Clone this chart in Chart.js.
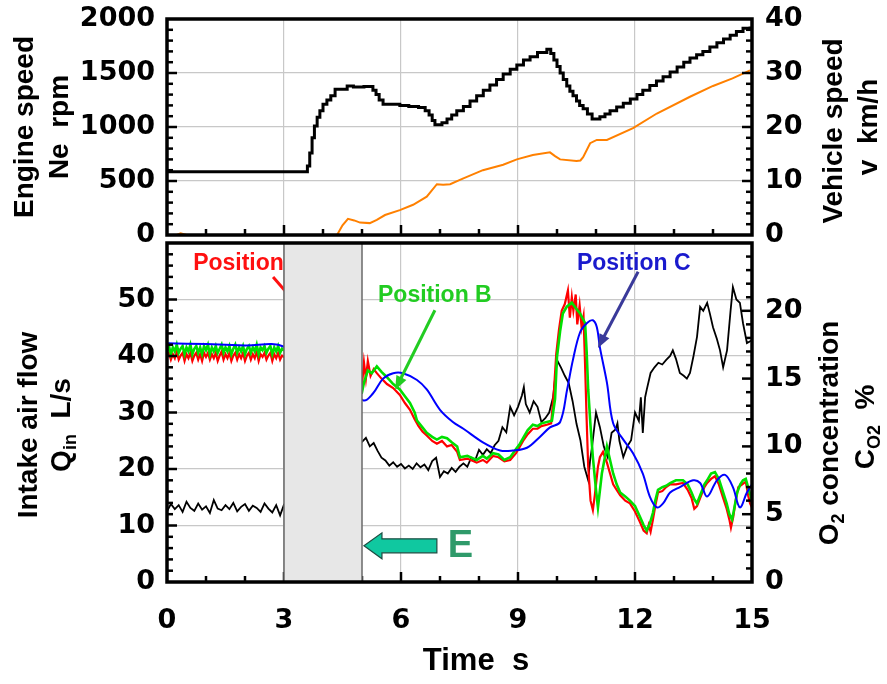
<!DOCTYPE html>
<html>
<head>
<meta charset="utf-8">
<script src="https://cdn.jsdelivr.net/npm/chart.js@4.4.1/dist/chart.umd.min.js"></script>
<style>
  html, body { margin: 0; padding: 0; background: #fff; }
  #wrap { position: relative; width: 887px; height: 684px; }
  #wrap canvas { position: absolute; left: 0; }
  #topChart { top: 0; }
  #bottomChart { top: 236px; }
</style>
</head>
<body>
<div id="wrap">
  <canvas id="topChart" width="887" height="256"></canvas>
  <canvas id="bottomChart" width="887" height="448"></canvas>
</div>
<script>
// ---- top panel: engine speed (rpm) and vehicle speed (km/h) ----
const engineTime = [0, 3.58, 3.6, 3.66, 3.72, 3.78, 3.85, 3.92, 4.0, 4.1,
  4.2, 4.31, 4.62, 4.78, 5.05, 5.28, 5.36, 5.44, 5.54, 5.97,
  6.2, 6.45, 6.62, 6.72, 6.8, 6.87, 7.05, 7.18, 7.3, 7.43,
  7.6, 7.77, 7.94, 8.11, 8.28, 8.45, 8.62, 8.8, 8.97, 9.14,
  9.31, 9.5, 9.74, 9.84, 9.92, 10.0, 10.08, 10.16, 10.25, 10.33,
  10.41, 10.5, 10.58, 10.67, 10.78, 10.9, 11.1, 11.23, 11.36, 11.53,
  11.7, 11.88, 12.05, 12.2, 12.38, 12.55, 12.72, 12.9, 13.08, 13.25,
  13.41, 13.58, 13.74, 13.92, 14.1, 14.27, 14.44, 14.6, 14.77, 14.95];
const engineRpm = [585, 585, 640, 760, 900, 1010, 1090, 1150, 1210, 1250,
  1290, 1350, 1380, 1370, 1375, 1340, 1300, 1250, 1210, 1200,
  1190, 1180, 1150, 1110, 1060, 1020, 1040, 1075, 1110, 1150,
  1190, 1240, 1290, 1340, 1390, 1440, 1490, 1535, 1575, 1620,
  1650, 1690, 1720, 1680, 1620, 1560, 1500, 1440, 1380, 1330,
  1290, 1240, 1200, 1170, 1120, 1075, 1095, 1120, 1150, 1185,
  1220, 1260, 1300, 1340, 1385, 1425, 1465, 1510, 1555, 1600,
  1640, 1670, 1700, 1740, 1780, 1815, 1850, 1885, 1915, 1930];

const vehicleTime = [0, 0.25, 0.35, 0.5, 4.36, 4.5, 4.64, 4.8, 4.95, 5.2,
  5.38, 5.59, 5.97, 6.31, 6.66, 6.92, 7.08, 7.26, 7.51, 7.6,
  8.1, 8.62, 8.97, 9.38, 9.82, 9.95, 10.08, 10.5, 10.6, 10.67,
  10.85, 11.02, 11.28, 11.95, 12.56, 13.41, 14.0, 14.5, 14.95];
const vehicleKmh = [0, 0, 0.3, 0, 0, 1.8, 3.0, 2.7, 2.3, 2.2,
  2.8, 3.7, 4.6, 5.6, 7.1, 9.4, 9.3, 9.4, 10.2, 10.5,
  12.0, 13.0, 14.0, 14.8, 15.3, 14.6, 14.0, 13.7, 13.8, 14.4,
  17.0, 17.6, 17.6, 19.8, 22.5, 25.6, 27.6, 29.0, 30.5];

// ---- bottom panel: intake air flow (L/s) and O2 concentration (%) ----
const flowTime = [0, 0.1, 0.2, 0.3, 0.4, 0.5, 0.6, 0.7, 0.8, 0.9, 1.0, 1.1, 1.2, 1.3, 1.4, 1.5,
  1.6, 1.7, 1.8, 1.9, 2.0, 2.1, 2.2, 2.3, 2.4, 2.5, 2.6, 2.7, 2.8, 2.9, 3.0,
  5.0, 5.1, 5.2, 5.3, 5.4, 5.5, 5.6, 5.7, 5.8, 5.9, 6.0, 6.1, 6.2, 6.3, 6.4, 6.5, 6.6, 6.7, 6.8, 6.9,
  7.0, 7.1, 7.2, 7.3, 7.4, 7.5, 7.6, 7.7, 7.8, 7.9, 8.0, 8.1, 8.2, 8.3, 8.4, 8.5, 8.6, 8.7, 8.8, 8.9,
  9.0, 9.1, 9.15, 9.2, 9.3, 9.4, 9.5, 9.6, 9.7, 9.8, 9.9, 10.0, 10.1, 10.2, 10.3, 10.4, 10.5, 10.6,
  10.7, 10.8, 10.85, 10.9, 11.0, 11.1, 11.2, 11.3, 11.4, 11.5, 11.55, 11.6, 11.7, 11.8, 11.9, 12.0,
  12.1, 12.15, 12.2, 12.26, 12.3, 12.4, 12.5, 12.6, 12.7, 12.8, 12.9, 12.97, 13.05, 13.15, 13.25,
  13.33, 13.41, 13.5, 13.59, 13.67, 13.75, 13.85, 13.92, 14.0, 14.1, 14.18, 14.26, 14.36, 14.45,
  14.51, 14.6, 14.69, 14.77, 14.87, 15.0];
const flowLs = [12.5, 13.8, 12.9, 13.6, 12.4, 14.2, 13.1, 12.6, 13.9, 12.8, 13.4, 12.2, 14.5, 13.0, 12.7, 13.6,
  12.9, 14.0, 12.5, 13.3, 13.8, 12.6, 13.5, 13.1, 12.4, 13.9, 13.0, 12.3, 13.6, 11.8, 13.7,
  24.8, 25.5, 24.0, 24.6, 23.2, 22.0, 21.5, 20.6, 21.2, 20.4, 20.9, 20.1, 20.6, 20.0, 21.0, 20.3, 20.8, 19.8, 21.4, 22.0,
  18.6, 19.6, 19.2, 20.2, 19.5, 20.4, 21.0, 20.4, 22.0, 21.5, 23.4, 22.5, 23.5, 22.8, 24.2, 25.0, 27.4, 26.5, 31.0, 29.5,
  31.0, 33.0, 34.5, 31.5, 30.0, 32.0, 31.0, 28.3, 29.0, 30.0, 32.7, 39.3, 38.0, 36.5, 35.2, 32.0, 28.0, 25.1,
  20.4, 18.0, 21.6, 24.0, 30.0, 27.4, 24.0, 22.1, 26.4, 27.0, 28.1, 25.0, 22.1, 24.0, 25.1, 30.0,
  28.5, 32.7, 26.4, 32.7, 34.0, 37.0, 38.0, 38.8, 38.5, 39.3, 40.0, 41.0, 39.5, 37.0, 36.5,
  36.0, 37.0, 40.0, 43.4, 48.7, 48.0, 49.4, 47.5, 45.1, 43.0, 41.0, 38.0, 41.0, 48.0,
  52.2, 50.0, 49.4, 45.8, 42.3, 42.8];

const startTime = [0, 0.05, 0.1, 0.15, 0.2, 0.25, 0.3, 0.35, 0.4, 0.45, 0.5, 0.55, 0.6, 0.65, 0.7, 0.75,
  0.8, 0.85, 0.9, 0.95, 1.0, 1.05, 1.1, 1.15, 1.2, 1.25, 1.3, 1.35, 1.4, 1.45, 1.5, 1.55, 1.6, 1.65,
  1.7, 1.75, 1.8, 1.85, 1.9, 1.95, 2.0, 2.05, 2.1, 2.15, 2.2, 2.25, 2.3, 2.35, 2.4, 2.45, 2.5, 2.55,
  2.6, 2.65, 2.7, 2.75, 2.8, 2.85, 2.9, 2.95, 3.0];

const posATime = startTime.concat([
  5.0, 5.05, 5.1, 5.15, 5.22, 5.3, 5.38, 5.5, 5.64, 5.8, 5.97, 6.1, 6.23, 6.35, 6.45, 6.55, 6.66, 6.8, 6.92, 7.05,
  7.18, 7.3, 7.44, 7.51, 7.7, 7.94, 8.1, 8.2, 8.36, 8.5, 8.65, 8.8, 8.95, 9.05, 9.13, 9.25, 9.38, 9.5, 9.6, 9.74,
  9.85, 9.92, 9.98, 10.05, 10.12, 10.2, 10.28, 10.33, 10.38, 10.42, 10.48, 10.52, 10.58, 10.63, 10.68, 10.72,
  10.76, 10.8, 10.86, 10.92, 10.97, 11.05, 11.1, 11.18, 11.28, 11.36, 11.44, 11.53, 11.62, 11.75,
  11.87, 12.0, 12.13, 12.22, 12.3, 12.35, 12.4, 12.46, 12.52, 12.59, 12.7, 12.8, 12.9, 13.05, 13.23,
  13.35, 13.45, 13.52, 13.59, 13.7, 13.78, 13.85, 13.95, 14.05, 14.15, 14.26, 14.35, 14.42, 14.46, 14.52,
  14.58, 14.65, 14.75, 14.84, 14.9, 14.95, 15.0]);
const posAO2 = [16.6, 16.9, 16.4, 16.8, 16.5, 17.0, 16.4, 16.7, 16.9, 16.3,
  16.8, 16.5, 16.9, 16.3, 16.7, 16.9, 16.4, 16.8, 16.3, 16.9,
  16.6, 16.9, 16.4, 16.8, 16.5, 16.9, 16.3, 16.7, 17.0, 16.4,
  16.8, 16.5, 16.9, 16.3, 16.7, 16.9, 16.4, 16.8, 16.5, 16.9,
  16.3, 16.7, 16.9, 16.4, 16.8, 16.5, 17.0, 16.3, 16.8, 16.6,
  16.9, 16.4, 16.7, 16.9, 16.3, 16.8, 16.5, 16.9, 16.4, 16.7, 16.6,
  14.5, 16.2, 15.0, 16.3, 15.2, 15.7, 15.4, 15.0, 14.6, 14.3, 13.8, 13.2, 12.7, 12.0, 11.5, 11.1, 10.8, 10.4, 10.2, 10.4,
  10.0, 10.1, 9.6, 9.0, 9.1, 8.8, 9.0, 8.8, 9.3, 9.2, 8.9, 9.0, 9.5, 10.0, 10.4, 10.9, 11.3, 11.3, 11.5, 11.6,
  11.7, 14.0, 16.8, 18.6, 20.0, 20.5, 21.5, 19.5, 21.0, 20.0, 21.2, 19.0, 20.4, 18.8, 19.6, 16.0,
  12.0, 8.5, 6.0, 5.3, 6.4, 8.5, 9.2, 9.6, 8.8, 8.0, 7.2, 6.8, 6.4, 6.0,
  5.8, 5.2, 4.4, 3.8, 3.6, 4.2, 3.7, 4.6, 5.6, 6.6, 6.7, 7.0, 7.2, 7.2, 7.3,
  6.8, 6.2, 5.4, 5.6, 6.4, 7.0, 7.3, 7.6, 7.8, 7.2, 6.2, 5.4, 4.6, 4.0, 4.8,
  6.0, 7.0, 7.2, 7.4, 6.4, 5.8, 5.5];

const posBTime = startTime.concat([
  5.0, 5.05, 5.15, 5.25, 5.38, 5.5, 5.64, 5.8, 5.97, 6.1, 6.23, 6.35, 6.41, 6.55, 6.66, 6.8, 6.92, 7.05, 7.18, 7.3,
  7.44, 7.51, 7.7, 7.94, 8.1, 8.2, 8.36, 8.5, 8.65, 8.8, 8.95, 9.05, 9.13, 9.25, 9.38, 9.5, 9.6, 9.74, 9.87, 9.95,
  10.0, 10.08, 10.15, 10.25, 10.38, 10.48, 10.59, 10.72, 10.76, 10.8, 10.86, 10.92, 11.0, 11.05, 11.15, 11.28,
  11.36, 11.44, 11.53, 11.62, 11.75, 11.87, 12.0, 12.13, 12.22, 12.3, 12.38, 12.46, 12.52, 12.59,
  12.7, 12.8, 12.9, 13.05, 13.23, 13.35, 13.45, 13.52, 13.59, 13.7, 13.78, 13.85, 13.95, 14.05, 14.15,
  14.26, 14.35, 14.42, 14.49, 14.55, 14.62, 14.7, 14.77, 14.84, 14.9, 15.0]);
const posBO2 = [17.0, 17.4, 16.8, 17.3, 17.0, 17.5, 16.9, 17.2, 17.4, 16.8,
  17.3, 17.0, 17.5, 16.8, 17.2, 17.4, 16.9, 17.3, 16.8, 17.4,
  17.1, 17.5, 16.8, 17.3, 17.0, 17.4, 16.9, 17.2, 17.5, 16.9,
  17.3, 17.0, 17.4, 16.8, 17.2, 17.5, 16.9, 17.3, 17.0, 17.4,
  16.8, 17.2, 17.4, 16.9, 17.3, 17.0, 17.5, 16.8, 17.3, 17.1,
  17.4, 16.9, 17.2, 17.4, 16.8, 17.3, 17.0, 17.4, 16.9, 17.2, 17.1,
  14.0, 14.7, 15.6, 15.4, 15.9, 15.5, 15.1, 14.6, 14.2, 13.7, 13.2, 12.5, 11.9, 11.4, 11.0, 10.7, 10.5, 10.7, 10.6, 10.3,
  10.0, 9.2, 9.3, 9.0, 9.3, 9.1, 9.5, 9.4, 9.0, 9.2, 9.8, 10.2, 10.6, 11.2, 11.6, 11.5, 11.7, 11.8, 11.9, 13.5,
  16.6, 18.5, 19.8, 20.3, 20.6, 20.2, 19.8, 19.1, 17.0, 14.2, 11.5, 9.2, 6.8, 5.5, 8.0, 10.0,
  9.0, 8.0, 7.2, 6.6, 6.3, 6.0, 5.6, 4.8, 4.2, 3.8, 4.3, 5.1, 6.0, 6.8,
  7.0, 7.1, 7.3, 7.5, 7.5, 7.2, 6.6, 6.1, 5.8, 6.6, 7.2, 7.5, 8.0, 8.1, 7.6,
  6.6, 5.8, 5.0, 4.6, 5.5, 6.6, 7.2, 7.5, 7.6, 7.0, 6.0];

const posCTime = [0, 1, 2, 3,
  5.03, 5.28, 5.54, 5.8, 6.05, 6.41, 6.66, 7.0, 7.33, 7.6, 8.1, 8.54, 8.87, 9.23, 9.56, 9.82,
  10.08, 10.26, 10.41, 10.59, 10.77, 10.92, 11.02, 11.1, 11.28, 11.44, 11.7, 11.95, 12.2, 12.38,
  12.56, 12.72, 12.9, 13.15, 13.49, 13.67, 13.85, 14.1, 14.31, 14.51, 14.69, 14.87, 15.0];
const posCO2 = [17.6, 17.55, 17.45, 17.35,
  13.4, 13.9, 15.0, 15.4, 15.4, 14.9, 14.2, 12.7, 11.8, 11.3, 10.3, 9.7, 9.7, 9.9, 10.7, 11.4,
  11.8, 14.2, 16.4, 18.4, 19.1, 19.3, 18.8, 17.3, 14.7, 11.7, 10.5, 9.5, 8.0, 6.3,
  5.5, 5.8, 6.6, 7.0, 7.5, 7.3, 6.3, 7.5, 7.9, 7.0, 5.5, 6.6, 7.2];

const timeTicks = { min: 0, max: 15, step: 3 };

const TICK_FONT = { family: '"DejaVu Sans", sans-serif', weight: 'bold', size: 27, lineHeight: 1 };
const TITLE_FONT = 'bold 28px "Liberation Sans", Arial, sans-serif';
const SUB_FONT = 'bold 18px "Liberation Sans", Arial, sans-serif';
const NOTE_FONT = 'bold 23px "Liberation Sans", Arial, sans-serif';
const GRID = '#c8c8c8';

const pts = (xs, ys) => xs.map((x, i) => ({ x: x, y: ys[i] }));

function drawTickMarks(ctx, scale, area, t) {
  const n = Math.round((scale.max - scale.min) / t.minor);
  ctx.strokeStyle = '#000';
  ctx.lineWidth = 2.5;
  for (let i = 1; i < n; i++) {
    const v = scale.min + i * t.minor;
    const r = v / t.major;
    const len = Math.abs(r - Math.round(r)) < 1e-6 ? 10 : 6;
    const p = scale.getPixelForValue(v);
    ctx.beginPath();
    if (t.side === 'bottom') { ctx.moveTo(p, area.bottom); ctx.lineTo(p, area.bottom - len); }
    if (t.side === 'left') { ctx.moveTo(area.left, p); ctx.lineTo(area.left + len, p); }
    if (t.side === 'right') { ctx.moveTo(area.right, p); ctx.lineTo(area.right - len, p); }
    ctx.stroke();
  }
}

function arrow(ctx, x1, y1, x2, y2, color, width, head) {
  const ang = Math.atan2(y2 - y1, x2 - x1);
  ctx.strokeStyle = color;
  ctx.fillStyle = color;
  ctx.lineWidth = width;
  ctx.beginPath();
  ctx.moveTo(x1, y1);
  ctx.lineTo(x2 - head * 0.7 * Math.cos(ang), y2 - head * 0.7 * Math.sin(ang));
  ctx.stroke();
  if (head > 0) {
    ctx.beginPath();
    ctx.moveTo(x2, y2);
    ctx.lineTo(x2 - head * Math.cos(ang - 0.38), y2 - head * Math.sin(ang - 0.38));
    ctx.lineTo(x2 - head * Math.cos(ang + 0.38), y2 - head * Math.sin(ang + 0.38));
    ctx.closePath();
    ctx.fill();
  }
}

function drawNote(ctx, chart, n) {
  const sx = chart.scales.x, sy = chart.scales.yQ;
  const px = v => sx.getPixelForValue(v), py = v => sy.getPixelForValue(v);
  if (n.type === 'text') {
    ctx.font = n.font;
    ctx.fillStyle = n.color;
    ctx.textAlign = 'left';
    ctx.textBaseline = 'alphabetic';
    ctx.fillText(n.text, px(n.x), py(n.y));
  } else if (n.type === 'arrow') {
    arrow(ctx, px(n.x1), py(n.y1), px(n.x2), py(n.y2), n.color, n.width, n.head);
  } else if (n.type === 'block') {
    const tx = px(n.x1), ty = py(n.y), ex = px(n.x2);
    const hb = n.body / 2, hh = n.headH / 2, hl = n.headL;
    ctx.beginPath();
    ctx.moveTo(tx, ty);
    ctx.lineTo(tx + hl, ty - hh);
    ctx.lineTo(tx + hl, ty - hb);
    ctx.lineTo(ex, ty - hb);
    ctx.lineTo(ex, ty + hb);
    ctx.lineTo(tx + hl, ty + hb);
    ctx.lineTo(tx + hl, ty + hh);
    ctx.closePath();
    ctx.fillStyle = n.fill;
    ctx.fill();
    ctx.strokeStyle = n.stroke;
    ctx.lineWidth = 1.2;
    ctx.stroke();
  }
}

function drawTitle(ctx, t) {
  ctx.save();
  ctx.fillStyle = '#000';
  ctx.textAlign = 'left';
  ctx.textBaseline = 'alphabetic';
  let total = 0;
  const widths = t.runs.map(r => {
    ctx.font = r.sub ? SUB_FONT : (t.font || TITLE_FONT);
    const w = ctx.measureText(r.text).width;
    total += w;
    return w;
  });
  ctx.translate(t.x, t.y);
  if (t.rotate) ctx.rotate(-Math.PI / 2);
  let x = -total / 2;
  t.runs.forEach((r, i) => {
    ctx.font = r.sub ? SUB_FONT : (t.font || TITLE_FONT);
    ctx.fillText(r.text, x, r.sub ? 6 : 0);
    x += widths[i];
  });
  ctx.restore();
}

const panelPlugin = {
  id: 'panel',
  afterDatasetsDraw(chart, args, o) {
    const ctx = chart.ctx, a = chart.chartArea;
    ctx.save();
    o.marks.forEach(t => drawTickMarks(ctx, chart.scales[t.id], a, t));
    (o.under || []).forEach(n => drawNote(ctx, chart, n));
    if (o.shade) {
      const x0 = chart.scales.x.getPixelForValue(o.shade.from);
      const x1 = chart.scales.x.getPixelForValue(o.shade.to);
      ctx.fillStyle = '#e7e7e7';
      ctx.fillRect(x0, a.top, x1 - x0, a.bottom - a.top);
      ctx.strokeStyle = '#6a6a6a';
      ctx.lineWidth = 1.5;
      ctx.strokeRect(x0, a.top, x1 - x0, a.bottom - a.top);
    }
    (o.over || []).forEach(n => drawNote(ctx, chart, n));
    ctx.restore();
  },
  afterDraw(chart, args, o) {
    const ctx = chart.ctx, a = chart.chartArea;
    ctx.save();
    ctx.strokeStyle = '#000';
    ctx.lineWidth = 3.5;
    ctx.strokeRect(a.left, a.top, a.right - a.left, a.bottom - a.top);
    ctx.restore();
    o.titles.forEach(t => drawTitle(ctx, t));
  }
};

function noPadding(s) {
  s.paddingTop = 0; s.paddingBottom = 0; s.paddingLeft = 0; s.paddingRight = 0;
}

function yAxis(pos, min, max, step, grid, dropTop) {
  return {
    type: 'linear', position: pos, min: min, max: max,
    ticks: { stepSize: step, color: '#000', font: TICK_FONT, padding: pos === 'left' ? 12 : 13,
      callback: v => String(v) },
    grid: { display: grid, color: GRID, lineWidth: 1.2, drawTicks: false },
    border: { display: false },
    afterBuildTicks: s => { if (dropTop) s.ticks = s.ticks.filter(t => t.value < max); },
    afterFit: s => { s.width = pos === 'left' ? 167 : 135; noPadding(s); }
  };
}

function timeAxis(showLabels, height) {
  return {
    type: 'linear', min: timeTicks.min, max: timeTicks.max,
    ticks: { stepSize: timeTicks.step, display: showLabels, color: '#000', font: TICK_FONT, padding: 25,
      callback: v => String(v) },
    grid: { color: GRID, lineWidth: 1.2, drawTicks: false },
    border: { display: false },
    afterFit: s => { s.height = height; noPadding(s); }
  };
}

const lineStyle = { pointRadius: 0, fill: false, tension: 0 };

new Chart(document.getElementById('topChart'), {
  type: 'line',
  data: {
    datasets: [
      Object.assign({ label: 'Engine speed', data: pts(engineTime, engineRpm), yAxisID: 'y',
        borderColor: '#000', borderWidth: 3, stepped: true }, lineStyle),
      Object.assign({ label: 'Vehicle speed', data: pts(vehicleTime, vehicleKmh), yAxisID: 'v',
        borderColor: '#ff8000', borderWidth: 2 }, lineStyle)
    ]
  },
  options: {
    responsive: false, animation: false, devicePixelRatio: 1,
    layout: { padding: { top: 19, left: 0, right: 0, bottom: 0 } },
    plugins: {
      legend: { display: false }, tooltip: { enabled: false },
      panel: {
        marks: [
          { id: 'x', side: 'bottom', minor: 1, major: 3 },
          { id: 'y', side: 'left', minor: 100, major: 500 },
          { id: 'v', side: 'right', minor: 2, major: 10 }
        ],
        titles: [
          { rotate: true, x: 33, y: 127, runs: [{ text: 'Engine speed' }] },
          { rotate: true, x: 68, y: 127, runs: [{ text: 'Ne  rpm' }] },
          { rotate: true, x: 842, y: 131, runs: [{ text: 'Vehicle speed' }] },
          { rotate: true, x: 877, y: 127, runs: [{ text: 'v  km/h' }] }
        ]
      }
    },
    scales: {
      x: timeAxis(false, 21),
      y: yAxis('left', 0, 2000, 500, true, false),
      v: yAxis('right', 0, 40, 10, false, false)
    }
  },
  plugins: [panelPlugin]
});

new Chart(document.getElementById('bottomChart'), {
  type: 'line',
  data: {
    datasets: [
      Object.assign({ label: 'Position C', data: pts(posCTime, posCO2), yAxisID: 'yO',
        borderColor: '#0000ff', borderWidth: 2, tension: 0.35 }, { pointRadius: 0, fill: false }),
      Object.assign({ label: 'Position B', data: pts(posBTime, posBO2), yAxisID: 'yO',
        borderColor: '#00e000', borderWidth: 2.6 }, lineStyle),
      Object.assign({ label: 'Position A', data: pts(posATime, posAO2), yAxisID: 'yO',
        borderColor: '#ff0000', borderWidth: 2.2 }, lineStyle),
      Object.assign({ label: 'Intake air flow', data: pts(flowTime, flowLs), yAxisID: 'yQ',
        borderColor: '#000', borderWidth: 1.8 }, lineStyle)
    ]
  },
  options: {
    responsive: false, animation: false, devicePixelRatio: 1,
    layout: { padding: { top: 7, left: 0, right: 0, bottom: 0 } },
    plugins: {
      legend: { display: false }, tooltip: { enabled: false },
      panel: {
        marks: [
          { id: 'x', side: 'bottom', minor: 1, major: 3 },
          { id: 'yQ', side: 'left', minor: 2, major: 10 },
          { id: 'yO', side: 'right', minor: 1, major: 5 }
        ],
        under: [
          { type: 'text', text: 'Position A', x: 0.67, y: 55.2, color: '#ff1010', font: NOTE_FONT },
          { type: 'arrow', x1: 2.72, y1: 54.0, x2: 3.4, y2: 48.6, color: '#ff1010', width: 3, head: 0 }
        ],
        shade: { from: 3, to: 5 },
        over: [
          { type: 'text', text: 'Position B', x: 5.41, y: 49.6, color: '#22cc22', font: NOTE_FONT },
          { type: 'arrow', x1: 6.87, y1: 48.1, x2: 5.85, y2: 34.0, color: '#22cc22', width: 3, head: 15 },
          { type: 'text', text: 'Position C', x: 10.51, y: 55.2, color: '#1a1acd', font: NOTE_FONT },
          { type: 'arrow', x1: 12.08, y1: 54.9, x2: 11.05, y2: 41.4, color: '#3a3a9a', width: 3, head: 15 },
          { type: 'block', x1: 5.05, x2: 6.92, y: 6.4, body: 14, headH: 26, headL: 18, fill: '#10c8a0', stroke: '#1d4d42' },
          { type: 'text', text: 'E', x: 7.2, y: 4.4, color: '#2f9a6a', font: 'bold 38px "Liberation Sans", Arial, sans-serif' }
        ],
        titles: [
          { rotate: true, x: 37, y: 189, runs: [{ text: 'Intake air flow' }] },
          { rotate: true, x: 70, y: 189, runs: [{ text: 'Q' }, { text: 'in', sub: true }, { text: '  L/s' }] },
          { rotate: true, x: 838, y: 197, runs: [{ text: 'O' }, { text: '2', sub: true }, { text: ' concentration' }] },
          { rotate: true, x: 874, y: 191, runs: [{ text: 'C' }, { text: 'O2', sub: true }, { text: '  %' }] },
          { rotate: false, x: 476, y: 434, font: 'bold 31px "Liberation Sans", Arial, sans-serif', runs: [{ text: 'Time  s' }] }
        ]
      }
    },
    scales: {
      x: timeAxis(true, 102),
      yQ: yAxis('left', 0, 60, 10, true, true),
      yO: yAxis('right', 0, 25, 5, false, true)
    }
  },
  plugins: [panelPlugin]
});
</script>
</body>
</html>
